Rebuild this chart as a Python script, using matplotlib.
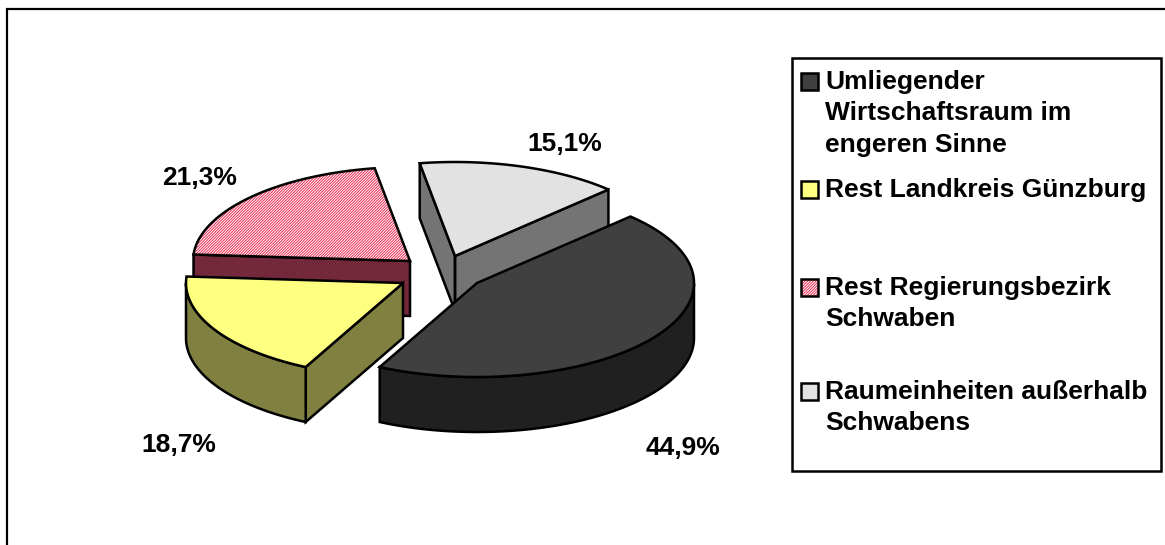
import numpy as np
import matplotlib
matplotlib.use("Agg")
import matplotlib.pyplot as plt
from matplotlib.patches import Rectangle

plt.rcParams['font.family'] = ['Liberation Sans', 'DejaVu Sans']
plt.rcParams['hatch.linewidth'] = 0.7

# slices, clockwise from the start angle
names = ["Umliegender\nWirtschaftsraum im\nengeren Sinne", "Rest Landkreis Günzburg",
         "Rest Regierungsbezirk\nSchwaben", "Raumeinheiten außerhalb\nSchwabens"]
values = [44.9, 18.7, 21.3, 15.1]
labels = ["44,9%", "18,7%", "21,3%", "15,1%"]

top_cols = ["#404040", "#ffff80", "#ffffff", "#e2e2e2"]
side_cols = ["#202020", "#808040", "#5e1e2e", "#747474"]
hatch_top = [None, None, "#e8284f", None]
hatch_side = [None, None, "#8a3448", None]

# pixel layout
centers = [(477, 283), (403, 283), (410, 261), (455, 256)]
label_pos = [(683, 448), (179, 445), (200, 178), (565, 144)]
legend_y = [82, 190, 288, 392]
start = 45.0
rx, ry = 217, 94
depth = 55

fig = plt.figure(figsize=(11.65, 5.45), dpi=100)
ax = fig.add_axes([0, 0, 1, 1])
ax.set_xlim(0, 1165)
ax.set_ylim(545, 0)
ax.axis("off")


def pt(c, a):
    r = np.radians(a)
    return c[0] + rx * np.cos(r), c[1] - ry * np.sin(r)


def face(xs, ys, col, hatch, z):
    # fill + optional fine hatch + black outline
    if hatch:
        ax.fill(xs, ys, facecolor=col, edgecolor=hatch, hatch="////////////", lw=0, zorder=z)
    else:
        ax.fill(xs, ys, facecolor=col, edgecolor="none", zorder=z)
    ax.fill(xs, ys, facecolor="none", edgecolor="black", lw=1.8, joinstyle="miter", zorder=z + 0.1)


angles = start - np.cumsum([0] + values) * 3.6

# back slices first
for i in [3, 2, 1, 0]:
    c = centers[i]
    a0, a1 = angles[i], angles[i + 1]
    z = 10 + (3 - i) * 5

    # straight cut faces
    if np.cos(np.radians(a0)) < 0:
        p = pt(c, a0)
        face([c[0], p[0], p[0], c[0]], [c[1], p[1], p[1] + depth, c[1] + depth],
             side_cols[i], hatch_side[i], z)
    if np.cos(np.radians(a1)) > 0:
        p = pt(c, a1)
        face([c[0], p[0], p[0], c[0]], [c[1], p[1], p[1] + depth, c[1] + depth],
             side_cols[i], hatch_side[i], z)

    # curved outer wall, lower half of the ellipse only
    aa = np.linspace(a0, a1, 200)
    low = aa[np.sin(np.radians(aa)) <= 0]
    if len(low) > 1:
        x, y = pt(c, low)
        face(np.r_[x, x[::-1]], np.r_[y, y[::-1] + depth], side_cols[i], hatch_side[i], z + 1)

    # top
    x, y = pt(c, aa)
    face(np.r_[c[0], x], np.r_[c[1], y], top_cols[i], hatch_top[i], z + 2)

    ax.text(label_pos[i][0], label_pos[i][1], labels[i], fontsize=19, fontweight="bold",
            ha="center", va="center", zorder=50)

# outer frame, only top and left are inside the image
ax.plot([7, 7, 1165], [545, 9, 9], color="black", lw=1.6, zorder=60, solid_joinstyle="miter")

# legend
ax.add_patch(Rectangle((792, 58), 369, 413, facecolor="white", edgecolor="black", lw=1.8, zorder=30))
for i in range(4):
    yc = legend_y[i] - 1
    if hatch_top[i]:
        ax.add_patch(Rectangle((801, yc - 8.5), 17, 17, facecolor=top_cols[i], edgecolor=hatch_top[i],
                               hatch="////////////", lw=0, zorder=31))
    ax.add_patch(Rectangle((801, yc - 8.5), 17, 17, facecolor=top_cols[i] if not hatch_top[i] else "none",
                           edgecolor="black", lw=1.8, zorder=32))
    for j, line in enumerate(names[i].split("\n")):
        ax.text(825, legend_y[i] + j * 31.5, line, fontsize=19, fontweight="bold", ha="left",
                va="center", zorder=33)

fig.savefig("out.png", dpi=100)
